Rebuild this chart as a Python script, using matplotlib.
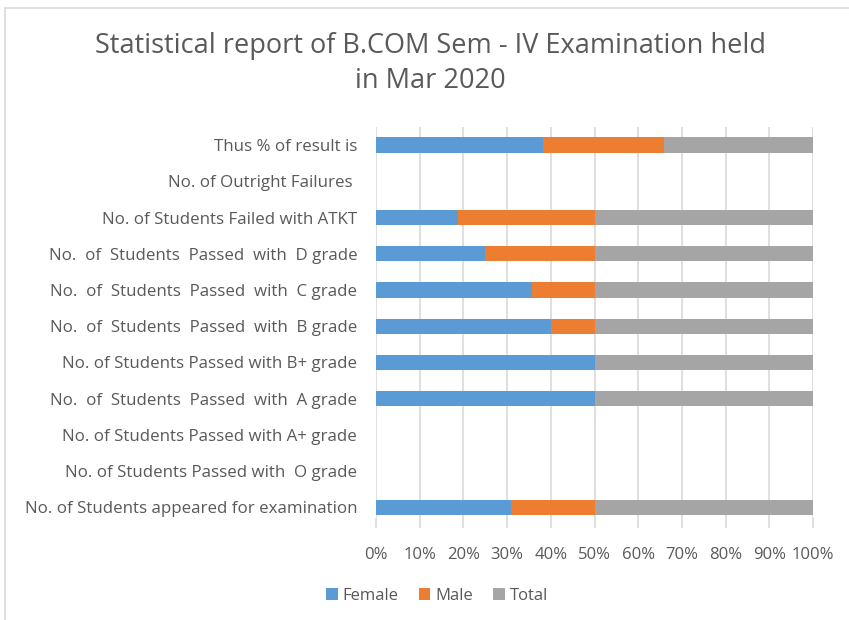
import matplotlib.pyplot as plt
from matplotlib.patches import Rectangle

categories = [
    "No. of Students appeared for examination",
    "No. of Students Passed with  O grade",
    "No. of Students Passed with A+ grade",
    "No.  of  Students  Passed  with  A grade",
    "No. of Students Passed with B+ grade",
    "No.  of  Students  Passed  with  B grade",
    "No.  of  Students  Passed  with  C grade",
    "No.  of  Students  Passed  with  D grade",
    "No. of Students Failed with ATKT",
    "No. of Outright Failures ",
    "Thus % of result is",
]
female = [21, 0, 0, 2, 3, 4, 5, 4, 3, 0, 85.71]
male = [13, 0, 0, 0, 0, 1, 2, 4, 5, 0, 61.54]
total = [34, 0, 0, 2, 3, 5, 7, 8, 8, 0, 76.47]

colors = {"Female": "#5B9BD5", "Male": "#ED7D31", "Total": "#A5A5A5"}
text_color = "#595959"

plt.rcParams['font.family'] = ['Open Sans', 'DejaVu Sans']

# convert to 100% stacked shares
f_pct, m_pct, t_pct = [], [], []
for f, m, t in zip(female, male, total):
    s = f + m + t
    if s == 0:
        f_pct.append(0); m_pct.append(0); t_pct.append(0)
    else:
        f_pct.append(f / s * 100); m_pct.append(m / s * 100); t_pct.append(t / s * 100)

fig = plt.figure(figsize=(8.49, 6.2), dpi=100)
ax = fig.add_axes([376 / 849, 1 - 518 / 620, 437 / 849, 391 / 620])

y = list(range(len(categories)))
h = 0.42
ax.barh(y, f_pct, height=h, color=colors["Female"], label="Female", zorder=3)
ax.barh(y, m_pct, height=h, left=f_pct, color=colors["Male"], label="Male", zorder=3)
left2 = [a + b for a, b in zip(f_pct, m_pct)]
ax.barh(y, t_pct, height=h, left=left2, color=colors["Total"], label="Total", zorder=3)

ax.set_xlim(0, 100)
ax.set_ylim(-0.3, 10.5)
ax.set_xticks(range(0, 101, 10))
ax.set_xticklabels([f"{v}%" for v in range(0, 101, 10)])
ax.set_yticks(y)
ax.set_yticklabels(categories)
ax.grid(axis='x', color="#D9D9D9", linewidth=1.2, zorder=0)
for s in ax.spines.values():
    s.set_visible(False)
ax.tick_params(axis='x', length=7, color="#D9D9D9", width=1.2, pad=14,
               labelsize=12, labelcolor=text_color)
ax.tick_params(axis='y', length=0, pad=13.5, labelsize=12.2, labelcolor=text_color)

fig.text(0.507, 1 - 46 / 620, "Statistical report of B.COM Sem - IV Examination held",
         ha='center', va='center', fontsize=19.5, color=text_color)
fig.text(0.507, 1 - 81 / 620, "in Mar 2020",
         ha='center', va='center', fontsize=19.5, color=text_color)

fig.legend(loc='center', bbox_to_anchor=(437 / 849, 1 - 596 / 620), ncol=3,
           frameon=False, fontsize=12, labelcolor=text_color,
           handlelength=0.7, handleheight=0.7, handletextpad=0.3, columnspacing=1.2)

fig.patches.append(Rectangle((5 / 849, -0.1), 1.2, 1.1 - 8 / 620,
                             transform=fig.transFigure, fill=False,
                             edgecolor="#D9D9D9", linewidth=1.2))

fig.savefig("out.png", dpi=100)
